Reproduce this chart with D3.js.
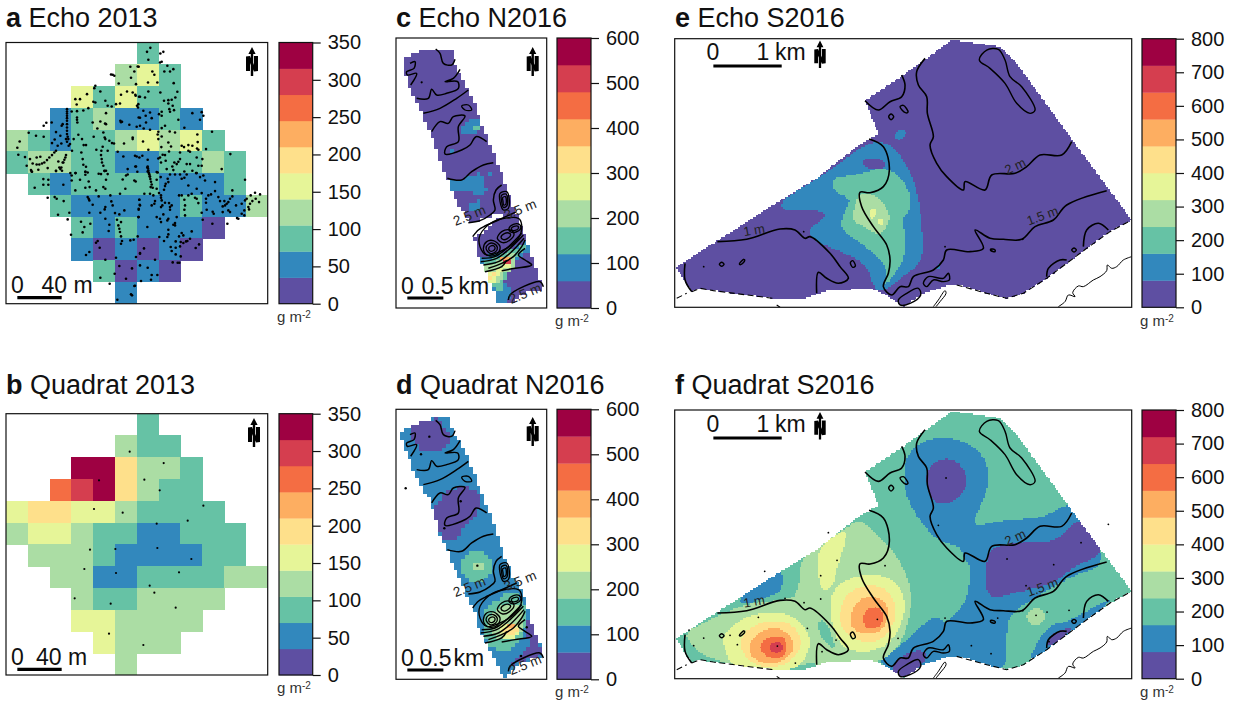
<!DOCTYPE html>
<html>
<head>
<meta charset="utf-8">
<script src="https://cdn.jsdelivr.net/npm/d3@7"></script>
<style>
  html, body { margin: 0; padding: 0; background: #fff; }
  text { font-family: "Liberation Sans", Helvetica, Arial, sans-serif; fill: #111; }
</style>
</head>
<body>
<div id="vis"></div>
<script>
// ---------------- colour classes and colour bar ticks ----------------
const classColors = d3.schemeSpectral[10].slice().reverse();
const ticks2013 = [0, 50, 100, 150, 200, 250, 300, 350];
const ticksN2016 = [0, 100, 200, 300, 400, 500, 600];
const ticksS2016 = [0, 100, 200, 300, 400, 500, 600, 700, 800];

// ---------------- 2013 grid (20 m cells), g m-2 ----------------
const _ = null;
const echo2013 = [
  [_,_,_,_,_,_,90,_,_,_,_,_],
  [_,_,_,_,_,125,160,90,_,_,_,_],
  [_,_,_,160,90,160,90,90,_,_,_,_],
  [_,_,50,90,125,50,50,90,50,_,_,_],
  [125,90,50,90,90,125,160,125,160,90,_,_],
  [90,125,125,90,90,50,50,90,90,125,90,_],
  [_,90,50,90,90,90,90,50,50,50,90,_],
  [_,_,90,50,50,50,50,50,90,50,50,125],
  [_,_,_,90,50,90,50,50,50,20,_,_],
  [_,_,_,50,20,50,20,50,20,_,_,_],
  [_,_,_,_,90,20,50,20,_,_,_,_],
  [_,_,_,_,_,50,_,_,_,_,_,_]
];
const quadrat2013 = [
  [_,_,_,_,_,_,90,_,_,_,_,_],
  [_,_,_,_,_,125,90,90,_,_,_,_],
  [_,_,_,340,340,190,125,125,90,_,_,_],
  [_,_,260,300,340,190,125,90,90,_,_,_],
  [160,190,190,160,160,125,90,90,90,90,_,_],
  [125,160,160,125,90,90,50,50,90,90,90,_],
  [_,125,125,125,90,50,50,50,50,90,90,_],
  [_,_,125,125,50,50,90,90,90,90,125,125],
  [_,_,_,125,90,90,125,125,125,125,_,_],
  [_,_,_,160,160,125,125,125,125,_,_,_],
  [_,_,_,_,160,125,125,125,_,_,_,_],
  [_,_,_,_,_,125,_,_,_,_,_,_]
];

const echoBlockNW = [[320,97],[325,100],[315,96],[373,73],[398,73],[385,87],[375,106],[338,123],[390,125],[268,130],[265,137],[283,147],[243,155],[208,170],[222,170],[212,186],[262,178],[268,180],[298,175],[305,190],[317,192],[330,185],[345,157],[363,147],[380,150],[388,157],[342,183],[402,163],[397,185],[393,190],[183,200],[183,207],[183,213],[183,220],[183,227],[183,235],[183,245],[183,255],[183,265],[183,275],[197,207],[213,206],[232,204],[247,197],[213,225],[213,232],[214,240],[185,283],[187,290],[183,298],[170,245],[167,250],[137,240],[113,250],[121,241],[260,240],[283,237],[300,245],[300,212],[297,243],[343,235],[348,238],[370,247],[398,225],[402,250],[345,239],[274,258],[68,271],[90,280],[113,283],[138,302],[146,291],[150,269],[163,280],[166,303],[180,290],[217,277],[228,290],[233,308],[240,308],[263,283],[292,270],[296,285],[298,290],[310,295],[318,302],[324,303],[354,303],[380,285],[380,290],[203,290],[192,305],[188,310],[155,310],[41,297],[34,316],[271,322],[290,313],[305,325],[286,325],[285,338],[287,350],[288,360],[292,370],[295,385],[226,330],[230,350],[232,367],[240,373],[238,388],[245,390],[198,325],[180,338],[178,345],[175,352],[170,360],[150,325],[145,330],[138,338],[130,345],[123,353],[115,360],[108,363],[100,366],[92,366],[92,345],[103,343],[72,350],[37,337],[57,344],[80,363],[62,370],[75,383],[78,388],[97,382],[125,377],[150,385],[163,380],[160,375],[166,375],[172,360],[157,357],[168,385],[193,392],[208,392],[238,397],[285,395],[300,385],[305,395],[365,380],[388,372],[335,328],[352,342],[387,340],[400,345],[365,396]];
const echoBlockNE = [[46,16],[36,28],[76,33],[85,28],[40,52],[80,58],[75,60],[8,72],[97,70],[115,80],[88,87],[105,87],[52,87],[58,97],[39,120],[67,120],[116,122],[2,160],[12,163],[30,165],[40,147],[76,150],[127,148],[121,165],[87,175],[100,173],[100,183],[113,190],[110,172],[9,195],[25,205],[45,210],[32,220],[15,226],[50,227],[33,240],[5,253],[26,258],[45,262],[72,215],[80,208],[80,220],[103,200],[105,208],[117,203],[130,232],[80,257],[90,250],[172,212],[200,209],[205,220],[195,232],[148,256],[70,268],[68,276],[80,282],[70,290],[24,297],[40,322],[104,267],[120,270],[187,276],[231,268],[100,300],[79,314],[108,312],[102,327],[140,310],[147,314],[160,308],[160,325],[172,310],[188,299],[186,318],[165,328],[135,330],[190,322],[213,320],[286,335],[5,342],[22,340],[38,352],[3,372],[7,388],[37,375],[70,348],[75,345],[83,337],[90,338],[68,390],[78,360],[92,355],[135,350],[130,358],[125,365],[118,360],[112,372],[95,380],[115,383],[155,365],[165,365],[148,387],[185,345],[190,370],[202,350],[200,370],[172,385],[183,392],[260,380],[38,372],[39,378],[40,384],[41,390],[43,396],[45,402]];
const echoBlockSW = [[77,3],[150,2],[197,15],[197,30],[209,8],[238,4],[278,10],[296,2],[360,15],[350,27],[300,28],[292,50],[298,55],[248,33],[251,50],[238,52],[222,28],[208,60],[270,60],[342,70],[385,30],[358,55],[112,26],[127,28],[112,43],[127,43],[86,52],[172,43],[125,82],[146,80],[152,85],[173,92],[190,127],[156,133],[245,80],[248,85],[250,90],[278,78],[313,75],[316,93],[298,110],[296,117],[260,103],[320,105],[250,127],[283,127],[327,128],[340,132],[355,120],[400,88],[402,105],[398,118],[298,145],[185,147],[225,154],[253,160],[235,170],[230,186],[195,193],[310,163],[308,182],[333,148],[345,155],[337,165],[340,175],[342,185],[345,198],[348,212],[345,220],[373,210],[383,208],[397,140],[275,212],[270,217],[281,232],[250,245],[240,254],[298,268],[330,262],[340,287],[378,294],[402,250],[283,322],[326,310],[360,325],[311,340],[385,347],[375,372],[378,375],[334,388]];
const echoBlockSE = [[2,33],[38,3],[42,10],[44,18],[46,26],[48,34],[50,42],[47,50],[53,52],[65,55],[65,28],[65,5],[77,20],[98,25],[100,35],[92,40],[90,47],[87,58],[105,12],[120,12],[135,12],[148,22],[140,25],[155,12],[185,8],[195,20],[240,35],[210,30],[185,55],[160,45],[205,15],[292,60],[330,28],[28,70],[45,70],[55,75],[72,68],[78,75],[78,82],[80,90],[82,105],[90,97],[102,98],[60,92],[58,100],[50,105],[13,88],[14,103],[11,115],[11,140],[78,110],[105,110],[110,105],[132,75],[148,88],[150,105],[148,118],[150,135],[140,75],[160,75],[170,70],[180,82],[185,85],[190,98],[200,68],[213,85],[213,97],[220,75],[228,72],[240,62],[250,80],[255,92],[263,108],[270,105],[275,100],[280,95],[285,85],[292,78],[268,92],[200,127],[215,118],[233,124],[236,130],[263,125],[280,120],[285,125],[303,105],[320,100],[328,120],[320,130],[328,135],[330,90],[340,110],[345,100],[352,92],[335,85],[347,75],[360,67],[375,72],[362,85],[372,95],[342,117],[306,143],[310,145],[277,160],[232,160],[203,148],[65,140],[75,145],[78,155],[97,150],[100,145],[85,132],[105,118],[125,140],[120,158],[115,163],[100,178],[100,192],[97,200],[73,200],[87,212],[122,213],[120,165],[37,170],[8,198],[137,215],[145,218],[153,213],[157,212],[140,188],[145,195],[170,183],[132,198],[165,205],[192,222],[182,233],[107,230],[122,232],[135,228],[110,242],[122,252],[137,258],[27,234],[15,248],[3,260],[60,268],[113,276],[128,277],[133,277],[15,285],[38,292],[50,314],[67,314],[48,328],[18,332],[0,346]];
const quadrat2013Stations = [[389,245],[491,279],[297,331],[433,329],[479,361],[282,417],[368,428],[610,407],[563,452],[470,461],[270,539],[346,537],[472,534],[574,567],[253,597],[348,609],[537,607],[449,647],[463,668],[224,685],[332,701],[527,713],[327,791],[430,825]];

// ---------------- north strip 2016 (map units) ----------------
const echoNOutline = [[36,88],[70,70],[110,55],[185,55],[190,90],[210,130],[235,180],[262,245],[300,345],[330,420],[348,465],[370,530],[395,590],[415,640],[440,720],[460,775],[400,790],[360,820],[318,820],[312,780],[295,745],[270,690],[250,625],[270,612],[310,578],[345,555],[300,560],[240,578],[205,520],[180,470],[150,395],[125,320],[95,250],[60,175],[40,125]];
const quadratNOutline = [[30,94],[42,85],[70,70],[110,55],[150,42],[175,42],[188,90],[205,110],[235,175],[260,240],[300,340],[330,420],[345,470],[365,520],[395,565],[415,620],[425,660],[445,720],[462,762],[395,786],[340,830],[320,790],[295,735],[270,690],[250,625],[232,590],[205,520],[180,470],[150,400],[125,310],[95,255],[65,195],[40,135]];
const echoNZones = [
  [90, [[215,295],[228,275],[268,268],[270,295],[250,310],[215,305]]],
  [150, [[248,285],[268,285],[268,298],[248,300]]],
  [90, [[178,353],[192,353],[192,365],[178,365]]],
  [90, [[180,460],[190,450],[240,445],[262,430],[285,445],[280,465],[290,490],[245,490],[235,480],[200,480],[185,490]]],
  [90, [[240,520],[270,510],[270,535],[250,545],[240,540]]],
  [90, [[295,425],[305,425],[305,440],[295,440]]],
  [90, [[270,685],[300,675],[360,665],[395,640],[420,640],[425,660],[385,680],[370,715],[345,740],[345,760],[360,770],[355,815],[318,822],[310,790],[295,745],[270,690]]],
  [150, [[285,695],[320,680],[370,660],[405,640],[412,655],[380,675],[365,715],[345,735],[340,780],[320,780],[305,760],[285,715]]],
  [210, [[282,710],[310,705],[350,675],[375,670],[368,715],[345,725],[330,750],[310,755],[295,740]]],
  [270, [[295,735],[310,725],[335,710],[360,700],[362,712],[335,720],[320,745],[305,765],[295,755]]],
  [330, [[290,738],[312,725],[318,740],[300,745]]],
  [390, [[335,680],[360,675],[360,688],[335,690]]],
  [510, [[337,687],[360,687],[360,698],[337,698]]]
];
const quadratNZones = [
  [30, [[65,99],[75,74],[115,62],[145,59],[160,89],[175,99],[170,129],[150,154],[100,154],[80,129]]],
  [30, [[125,350],[150,305],[175,275],[235,262],[270,300],[265,330],[225,370],[200,412],[165,415],[150,385],[130,350]]],
  [150, [[210,495],[235,465],[270,450],[300,480],[310,510],[285,540],[240,540],[215,515]]],
  [210, [[245,490],[280,485],[280,510],[245,515]]],
  [150, [[280,644],[300,619],[330,599],[370,579],[410,634],[405,674],[395,694],[395,714],[360,744],[310,744],[285,709],[290,669]]],
  [210, [[295,659],[320,629],[345,619],[380,614],[395,644],[390,684],[385,704],[350,719],[320,719],[310,694]]],
  [270, [[325,684],[345,674],[375,669],[390,694],[380,712],[345,716]]],
  [330, [[345,684],[375,674],[385,696],[370,704],[350,704]]],
  [390, [[345,679],[370,669],[370,679],[350,689]]],
  [30, [[412,669],[425,664],[445,724],[450,764],[415,774],[365,794],[375,774],[395,764],[410,744],[425,724],[405,704]]]
];
const echoNStations = [[95,157]];
const quadratNStations = [[118,110],[93,163],[47,265],[212,304],[163,385],[262,497],[410,682],[393,768]];

const contoursN = [
  [[137,57],[150,70],[160,100],[185,105],[195,88]],
  [[60,100],[75,95],[72,115],[50,125],[52,135],[80,130],[62,165]],
  [[210,118],[190,145],[165,155],[203,155],[205,175],[170,190],[140,195],[125,178],[115,205],[80,205]],
  [[100,250],[150,235],[200,205],[235,180]],
  [[125,305],[150,275],[175,280],[190,260],[225,258],[205,290],[205,335],[170,350],[165,372],[215,360],[240,345],[258,320],[290,335]],
  [[172,445],[215,450],[245,425],[280,405],[310,398]],
  [[335,465],[318,480],[310,510],[315,540],[300,555],[270,572],[235,578]],
  [[248,620],[265,600],[285,588],[325,570],[380,545]],
  [[275,685],[315,680],[350,655],[395,610]],
  [[272,695],[320,685],[360,655],[400,615]],
  [[280,705],[325,695],[365,665],[402,625]],
  [[295,715],[335,700],[370,680],[395,650],[405,630]],
  [[285,725],[335,710],[350,690]],
  [[335,722],[375,715],[425,705],[405,690],[385,675],[405,655]],
  [[355,810],[360,795],[400,770],[450,755],[460,770]]
];
const contourRingsN = [
  [[215,228],[235,225],[245,240],[225,240]],
  [[330,490],[350,485],[358,510],[355,535],[340,540],[330,515]],
  [[334,497],[348,492],[353,510],[350,528],[340,532],[335,515]],
  [[338,503],[346,500],[349,512],[347,523],[341,525],[339,514]],
  [[270,615],[310,575],[385,565],[395,585],[385,625],[330,665],[290,675],[270,650]],
  [[280,655],[290,635],[310,632],[330,650],[322,672],[300,678],[285,670]],
  [[288,655],[296,642],[310,640],[322,652],[316,666],[300,670]],
  [[296,655],[302,648],[312,648],[315,656],[308,663],[300,663]],
  [[322,625],[335,605],[360,600],[372,612],[360,630],[338,638]],
  [[333,622],[343,611],[356,609],[362,615],[352,626],[340,629]],
  [[357,595],[370,583],[388,583],[392,595],[378,606],[362,606]],
  [[364,595],[372,589],[384,589],[384,597],[375,601],[367,601]]
];

// ---------------- south area 2016 (map units) ----------------
const southOutline = [[18,712],[142,632],[330,512],[440,445],[560,350],[625,312],[585,212],[700,135],[770,85],[845,30],[990,50],[1040,100],[1200,320],[1385,570],[1320,605],[1250,655],[1130,745],[1060,790],[1010,805],[950,790],[870,765],[830,768],[760,790],[700,830],[640,790],[600,775],[470,783],[400,806],[310,805],[230,795],[130,782],[90,775],[65,785]];
const echoSZones = [
  [120, [[330,512],[470,430],[600,330],[670,345],[725,430],[745,500],[755,580],[760,660],[750,700],[700,740],[640,785],[610,775],[590,700],[500,660],[430,630],[410,600],[470,560],[450,540],[340,545]]],
  [120, [[670,325],[685,300],[710,305],[695,330]]],
  [120, [[800,710],[810,700],[812,716],[800,718]]],
  [40, [[578,395],[590,385],[640,390],[645,415],[590,415]]],
  [200, [[498,450],[560,445],[640,420],[690,450],[715,500],[710,550],[690,560],[700,620],[695,680],[670,720],[640,755],[650,700],[600,650],[540,610],[520,590],[530,545],[550,510],[500,490]]],
  [280, [[570,490],[620,500],[650,540],[655,570],[640,600],[620,610],[590,590],[550,570],[555,540]]],
  [360, [[600,540],[620,535],[618,560],[600,565]]],
  [360, [[625,565],[640,565],[640,585],[625,585]]]
];
const quadratSZones = [
  [120, [[700,190],[740,130],[820,110],[900,130],[950,180],[957,250],[940,300],[900,382],[1000,360],[1120,355],[1190,310],[1215,330],[1320,490],[1200,530],[1100,590],[1020,640],[1010,700],[1010,810],[950,800],[860,775],[790,800],[700,840],[630,790],[640,775],[700,730],[790,645],[825,670],[860,640],[895,590],[900,490],[885,480],[870,440],[845,435],[800,420],[740,350],[705,280]]],
  [40, [[775,215],[800,185],[850,180],[885,220],[885,265],[850,300],[810,310],[785,290],[775,250]]],
  [40, [[970,445],[1060,430],[1150,430],[1190,390],[1225,365],[1295,460],[1200,500],[1150,545],[1050,570],[960,590],[960,500]]],
  [120, [[1075,790],[1130,680],[1200,665],[1275,620],[1320,600],[1250,670],[1130,760]]],
  [40, [[1130,740],[1140,710],[1175,690],[1210,685],[1170,720]]],
  [40, [[665,810],[690,770],[750,750],[770,770],[745,800],[700,835]]],
  [280, [[390,475],[445,440],[520,390],[570,355],[625,410],[660,440],[705,510],[730,600],[700,720],[665,760],[620,790],[470,795],[400,790],[340,815],[230,805],[150,785],[90,760],[60,730],[45,695],[150,645],[225,612],[330,600],[385,590]]],
  [200, [[445,665],[468,665],[490,720],[490,745],[465,725],[448,700]]],
  [120, [[210,600],[240,570],[300,530],[333,510],[335,572],[290,590],[230,612]]],
  [360, [[445,445],[527,390],[520,440],[500,500],[490,550],[460,570],[445,520]]],
  [360, [[490,590],[520,550],[590,530],[660,540],[695,590],[695,650],[660,720],[610,745],[545,745],[510,720],[490,650]]],
  [440, [[515,640],[530,590],[580,560],[640,565],[670,610],[670,660],[640,710],[590,725],[540,700],[520,680]]],
  [520, [[545,650],[560,610],[600,590],[640,605],[655,640],[640,680],[610,700],[570,695],[550,680]]],
  [600, [[578,655],[590,630],[620,622],[638,640],[635,670],[610,685],[590,685]]],
  [360, [[165,710],[220,660],[280,645],[340,645],[385,670],[415,720],[400,770],[370,800],[300,812],[240,802],[190,790],[175,750]]],
  [440, [[215,720],[250,680],[310,665],[370,680],[390,730],[370,770],[330,795],[270,795],[230,770]]],
  [520, [[238,740],[265,700],[320,685],[360,710],[370,745],[340,780],[290,790],[250,770]]],
  [600, [[270,740],[290,715],[330,708],[350,730],[345,760],[320,775],[285,765]]],
  [680, [[300,735],[320,725],[340,735],[335,755],[315,758],[300,750]]],
  [280, [[1068,650],[1085,628],[1110,625],[1125,650],[1110,675],[1085,675]]]
];
const echoSStations = [[101,710],[401,605],[825,650],[1058,628],[965,660]];
const quadratSStations = [[57,690],[101,714],[71,737],[180,706],[202,734],[265,652],[322,738],[376,789],[412,685],[345,595],[402,608],[452,597],[452,527],[501,481],[475,398],[284,514],[645,497],[622,658],[498,720],[456,755],[684,715],[825,654],[805,376],[828,234],[1011,477],[1151,494],[1233,428],[1315,373],[1068,557],[983,654],[1058,632],[1098,646],[1131,636],[1197,631],[904,737],[963,761],[1137,725],[1188,703]];

const contoursS = [
  [[142,635],[230,628],[330,597],[375,600],[405,625],[420,620],[480,670],[510,710],[535,745],[505,760],[470,745],[445,727],[440,790]],
  [[45,700],[45,750],[65,785]],
  [[597,327],[640,350],[658,420],[640,470],[600,488],[570,487],[575,530],[610,590],[650,645],[660,690],[655,730],[640,770],[665,795],[690,770],[715,770],[730,740],[790,720],[820,690],[830,660],[900,665],[940,655],[915,600],[960,625],[1000,628],[1055,628],[1095,590],[1150,570],[1190,525],[1310,482]],
  [[765,85],[740,125],[745,165],[770,200],[772,250],[790,320],[780,345],[800,400],[830,440],[880,480],[885,455],[945,480],[965,435],[1035,430],[1070,410],[1110,375],[1175,375],[1205,335]],
  [[585,212],[625,240],[660,215],[695,200],[705,165],[695,135]],
  [[1240,650],[1250,600],[1285,580],[1315,600]],
  [[1130,740],[1135,715],[1170,690],[1190,690]]
];
const contourRingsS = [
  [[928,90],[950,60],[985,58],[1005,90],[1020,140],[1055,170],[1095,240],[1080,250],[1040,220],[1005,160],[960,115]],
  [[656,260],[663,252],[671,260],[663,269]],
  [[690,230],[700,226],[714,246],[706,248]],
  [[148,703],[155,697],[162,703],[155,709]],
  [[208,702],[222,688],[224,692],[212,704]],
  [[541,698],[548,692],[556,708],[548,712]],
  [[962,657],[975,660],[975,665],[962,662]],
  [[1205,660],[1212,654],[1219,660],[1212,666]],
  [[685,810],[710,790],[745,775],[752,795],[720,820],[690,825]],
  [[760,760],[775,740],[820,745],[835,730],[838,750],[820,755],[790,750],[770,770]]
];
const shoreS = [
  [[1165,830],[1185,815],[1195,795],[1215,800],[1208,788],[1225,768],[1240,770],[1270,750],[1290,740],[1310,722],[1312,705],[1325,715],[1340,710],[1360,690],[1385,680]],
  [[790,830],[805,810],[825,782],[828,790],[810,815],[798,830]]
];
const coastS = [
  [[20,805],[50,790]],
  [[65,785],[90,775],[130,782],[230,795],[310,805]],
  [[320,825],[330,832]],
  [[860,765],[950,790],[1010,805],[1060,790],[1130,745],[1250,655],[1320,605],[1385,570]]
];

// ---------------- layout ----------------
const width = 1234, height = 702;
const svg = d3.select("#vis").append("svg").attr("width", width).attr("height", height);

const panels = [
  { id: "a", title: "Echo 2013", tx: 6, ty: 27, x0: 6, x1: 267.7, y0: 42.5, y1: 303.7, bx: 279, bw: 33.7, max: 350, ticks: ticks2013, unitY: 322,
    grid: echo2013, stations: [[echoBlockNW,0,0],[echoBlockNE,387,0],[echoBlockSW,0,384],[echoBlockSE,387,384]], r: 1.3,
    north: [252, 47], bar: [34, 167], barY: 297.7, barText: [["0",11],["40",41.5],["m",73.5]], barTextY: 293 },
  { id: "b", title: "Quadrat 2013", tx: 6, ty: 394, x0: 6, x1: 267.7, y0: 413.7, y1: 675, bx: 279, bw: 33.7, max: 350, ticks: ticks2013, unitY: 693,
    grid: quadrat2013, stations: [[quadrat2013Stations,-18,-131]], r: 1.1,
    north: [254, 418], bar: [34, 167], barY: 669.3, barText: [["0",11],["40",36],["m",68]], barTextY: 665 },
  { id: "c", title: "Echo N2016", tx: 396, ty: 27, x0: 396, x1: 546.7, y0: 38, y1: 308, bx: 557, bw: 34, max: 600, ticks: ticksN2016, unitY: 326,
    domX: [18,470], domY: [24,834], cell: 11.5, outline: echoNOutline, base: 30, zones: echoNZones, shift: 0, stations2: echoNStations, r: 1.1,
    contours: contoursN, rings: contourRingsN, cw: 1.5, labelSize: 13.5,
    labels: [["2.5 m",238,556,-22],["3.5 m",390,538,-22],["2.5 m",405,790,-22]],
    north: [532.7, 47], bar: [52, 160], barY: 298, barText: [["0",401],["0.5",421.5],["km",458.5]], barTextY: 294 },
  { id: "d", title: "Quadrat N2016", tx: 396, ty: 394, x0: 396, x1: 546.7, y0: 409.3, y1: 679.3, bx: 557, bw: 34, max: 600, ticks: ticksN2016, unitY: 697,
    domX: [18,470], domY: [24,834], cell: 11.5, outline: quadratNOutline, base: 90, zones: quadratNZones, shift: 4, stations2: quadratNStations, r: 1.2,
    contours: contoursN, rings: contourRingsN, cw: 1.5, labelSize: 13.5,
    labels: [["2.5 m",238,556,-22],["3.5 m",390,538,-22],["2.5 m",405,790,-22]],
    north: [532.7, 417], bar: [52, 160], barY: 670, barText: [["0",401],["0.5",419.5],["km",453.5]], barTextY: 666 },
  { id: "e", title: "Echo S2016", tx: 675, ty: 27, x0: 674.7, x1: 1131.7, y0: 38.7, y1: 307.3, bx: 1142, bw: 34, max: 800, ticks: ticksS2016, unitY: 326,
    domX: [14,1385], domY: [26,832], cell: 5, outline: southOutline, base: 40, zones: echoSZones, shift: 0, stations2: echoSStations, r: 0.9,
    contours: contoursS, rings: contourRingsS, coast: coastS, shore: shoreS, cw: 1.6, labelSize: 13,
    labels: [["1 m",252,600,-10],["2 m",1035,408,-25],["1.5 m",1117,557,-20]],
    north: [820, 40.5], northScale: 0.95, bar: [130, 335], barY: 66, barText: [["0",706.5],["1",756.5],["km",775]], barTextY: 60 },
  { id: "f", title: "Quadrat S2016", tx: 675, ty: 394, x0: 674.7, x1: 1131.7, y0: 410, y1: 678.7, bx: 1142, bw: 34, max: 800, ticks: ticksS2016, unitY: 697,
    domX: [14,1385], domY: [26,832], cell: 5, outline: southOutline, base: 200, zones: quadratSZones, shift: 4, stations2: quadratSStations, r: 0.9,
    contours: contoursS, rings: contourRingsS, coast: coastS, shore: shoreS, cw: 1.6, labelSize: 13,
    labels: [["1 m",252,600,-10],["2 m",1035,408,-25],["1.5 m",1117,557,-20]],
    north: [820, 412], northScale: 0.95, bar: [130, 335], barY: 438, barText: [["0",706.5],["1",756.5],["km",775]], barTextY: 432 }
];

// corner cutting so the zone edges come out round before they go on the raster,
// small zones get grown a little because the cutting eats into them
function roundRing(ring, passes) {
  const c = d3.polygonCentroid(ring);
  const grow = Math.abs(d3.polygonArea(ring)) < 60000 ? 1.08 : 1;
  let pts = ring.map(function(p) { return [c[0] + (p[0] - c[0]) * grow, c[1] + (p[1] - c[1]) * grow]; });
  for (let k = 0; k < passes; k++) {
    const next = [];
    pts.forEach(function(p, i) {
      const q = pts[(i + 1) % pts.length];
      next.push([p[0] * 0.75 + q[0] * 0.25, p[1] * 0.75 + q[1] * 0.25]);
      next.push([p[0] * 0.25 + q[0] * 0.75, p[1] * 0.25 + q[1] * 0.75]);
    });
    pts = next;
  }
  return pts;
}

// fills the map cell by cell, last zone that holds the cell centre wins
function drawRaster(g, p, x, y, color) {
  const passes = p.cell > 10 ? 1 : 2;
  const zones = p.zones.map(function(z) { return [z[0], roundRing(z[1], passes)]; });
  const paths = {};
  d3.range(p.domY[0], p.domY[1], p.cell).forEach(function(cy) {
    let runStart = null, runValue = null, lastX = null;
    const flush = function() {
      if (runValue === null) return;
      paths[runValue] = (paths[runValue] || "") +
        "M" + x(runStart) + "," + y(cy) + "H" + x(lastX + p.cell) + "V" + y(cy + p.cell) + "H" + x(runStart) + "Z";
    };
    d3.range(p.domX[0], p.domX[1], p.cell).forEach(function(cx) {
      const mid = [cx + p.cell / 2, cy + p.cell / 2];
      let value = null;
      if (d3.polygonContains(p.outline, mid)) {
        value = p.base;
        const own = [mid[0], mid[1] + p.shift];
        zones.forEach(function(z) { if (d3.polygonContains(z[1], own)) value = z[0]; });
      }
      if (value !== runValue) {
        flush();
        runStart = cx;
        runValue = value;
      }
      lastX = cx;
    });
    flush();
  });
  Object.keys(paths).forEach(function(v) {
    g.append("path").attr("d", paths[v]).attr("fill", color(+v)).attr("shape-rendering", "crispEdges");
  });
}

function drawNorth(g, cx, top, s) {
  const n = g.append("g").attr("transform", "translate(" + cx + "," + top + ") scale(" + s + ")");
  n.append("path").attr("fill", "#000")
    .attr("d", "M0,0L3.6,7H1.2V29H-1.2V7H-3.6Z");
  n.append("path").attr("fill", "#000")
    .attr("d", "M-6,9.5L-2,9L2,18V9H6V24L2,24.5L-2,16V24H-6Z");
}

panels.forEach(function(p) {
  const g = svg.append("g").attr("class", "panel-" + p.id);
  const color = d3.scaleQuantize().domain([0, p.max]).range(classColors);

  // title
  const title = g.append("text").attr("x", p.tx).attr("y", p.ty).attr("font-size", 27);
  title.append("tspan").attr("font-weight", "bold").text(p.id);
  title.append("tspan").text(" " + p.title);

  const clipId = "clip-" + p.id;
  g.append("clipPath").attr("id", clipId).append("rect")
    .attr("x", p.x0).attr("y", p.y0).attr("width", p.x1 - p.x0).attr("height", p.y1 - p.y0);
  const map = g.append("g").attr("clip-path", "url(#" + clipId + ")");

  let x, y;
  if (p.grid) {
    // 12 x 12 cells
    const bandX = d3.scaleBand().domain(d3.range(12)).range([p.x0, p.x1]);
    const bandY = d3.scaleBand().domain(d3.range(12)).range([p.y0, p.y1]);
    p.grid.forEach(function(row, r) {
      map.selectAll(null).data(row.map(function(v, c) { return { v: v, c: c }; }).filter(function(d) { return d.v !== null; }))
        .enter().append("rect")
        .attr("x", function(d) { return bandX(d.c); })
        .attr("y", bandY(r))
        .attr("width", bandX.bandwidth() + 0.5)
        .attr("height", bandY.bandwidth() + 0.5)
        .attr("shape-rendering", "crispEdges")
        .attr("fill", function(d) { return color(d.v); });
    });
    x = d3.scaleLinear().domain([0, 785]).range([p.x0, p.x1]);
    y = d3.scaleLinear().domain([0, 784]).range([p.y0, p.y1]);
    p.stations.forEach(function(block) {
      map.selectAll(null).data(block[0]).enter().append("circle")
        .attr("cx", function(d) { return x(d[0] + block[1]); })
        .attr("cy", function(d) { return y(d[1] + block[2]); })
        .attr("r", p.r).attr("fill", "#000");
    });
  } else {
    x = d3.scaleLinear().domain(p.domX).range([p.x0, p.x1]);
    y = d3.scaleLinear().domain(p.domY).range([p.y0, p.y1]);
    drawRaster(map, p, x, y, color);

    const line = d3.line().x(function(d) { return x(d[0]); }).y(function(d) { return y(d[1]); });
    map.selectAll(null).data(p.contours).enter().append("path")
      .attr("d", line.curve(d3.curveCatmullRom.alpha(0.5)))
      .attr("fill", "none").attr("stroke", "#000").attr("stroke-width", p.cw);
    const ringLine = d3.line().x(function(d) { return x(d[0]); }).y(function(d) { return y(d[1]); })
      .curve(d3.curveCatmullRomClosed.alpha(0.5));
    map.selectAll(null).data(p.rings).enter().append("path")
      .attr("d", ringLine).attr("fill", "none").attr("stroke", "#000").attr("stroke-width", p.cw * 0.9);
    if (p.shore) {
      map.selectAll(null).data(p.shore).enter().append("path")
        .attr("d", line.curve(d3.curveCatmullRom.alpha(0.5)))
        .attr("fill", "none").attr("stroke", "#000").attr("stroke-width", 1);
    }
    if (p.coast) {
      map.selectAll(null).data(p.coast).enter().append("path")
        .attr("d", line.curve(d3.curveLinear))
        .attr("fill", "none").attr("stroke", "#000").attr("stroke-width", 1.1).attr("stroke-dasharray", "6,3.5");
    }
    const ownY = d3.scaleLinear().domain([p.domY[0] + p.shift, p.domY[1] + p.shift]).range([p.y0, p.y1]);
    map.selectAll(null).data(p.stations2).enter().append("circle")
      .attr("cx", function(d) { return x(d[0]); })
      .attr("cy", function(d) { return ownY(d[1]); })
      .attr("r", p.r).attr("fill", "#000");
    map.selectAll(null).data(p.labels).enter().append("text")
      .attr("transform", function(d) { return "translate(" + x(d[1]) + "," + y(d[2]) + ") rotate(" + d[3] + ")"; })
      .attr("text-anchor", "middle").attr("dy", "0.35em").attr("font-size", p.labelSize).style("fill", "#222")
      .text(function(d) { return d[0]; });
  }

  // frame
  g.append("rect").attr("x", p.x0).attr("y", p.y0).attr("width", p.x1 - p.x0).attr("height", p.y1 - p.y0)
    .attr("fill", "none").attr("stroke", "#111").attr("stroke-width", 1.2);

  drawNorth(g, p.north[0], p.north[1], p.northScale || 1);

  // scale bar
  g.append("line").attr("x1", x(p.bar[0])).attr("x2", x(p.bar[1])).attr("y1", p.barY).attr("y2", p.barY)
    .attr("stroke", "#000").attr("stroke-width", 3.2);
  g.selectAll(null).data(p.barText).enter().append("text")
    .attr("x", function(d) { return d[1]; }).attr("y", p.barTextY)
    .attr("font-size", 23).text(function(d) { return d[0]; });

  // colour bar
  const barScale = d3.scaleLinear().domain([0, p.max]).range([p.y1, p.y0]);
  const step = p.max / classColors.length;
  g.selectAll(null).data(classColors).enter().append("rect")
    .attr("x", p.bx).attr("width", p.bw)
    .attr("y", function(d, i) { return barScale((i + 1) * step); })
    .attr("height", function(d, i) { return barScale(i * step) - barScale((i + 1) * step) + 0.3; })
    .attr("fill", function(d) { return d; });
  g.append("rect").attr("x", p.bx).attr("y", p.y0).attr("width", p.bw).attr("height", p.y1 - p.y0)
    .attr("fill", "none").attr("stroke", "#111").attr("stroke-width", 1.2);
  const axis = g.append("g").attr("transform", "translate(" + (p.bx + p.bw) + ",0)")
    .call(d3.axisRight(barScale).tickValues(p.ticks).tickSize(8).tickPadding(7));
  axis.select(".domain").remove();
  axis.selectAll(".tick line").attr("stroke", "#111").attr("stroke-width", 1.2);
  axis.selectAll(".tick text").attr("font-size", 20).attr("font-family", "'Liberation Sans', Helvetica, Arial, sans-serif").style("fill", "#111");

  // unit under the colour bar
  const unit = g.append("text").attr("x", p.bx - 2).attr("y", p.unitY).attr("font-size", 15).style("fill", "#333");
  unit.append("tspan").text("g m");
  unit.append("tspan").attr("font-size", 10).attr("dy", -4.5).text("-2");
});
</script>
</body>
</html>
